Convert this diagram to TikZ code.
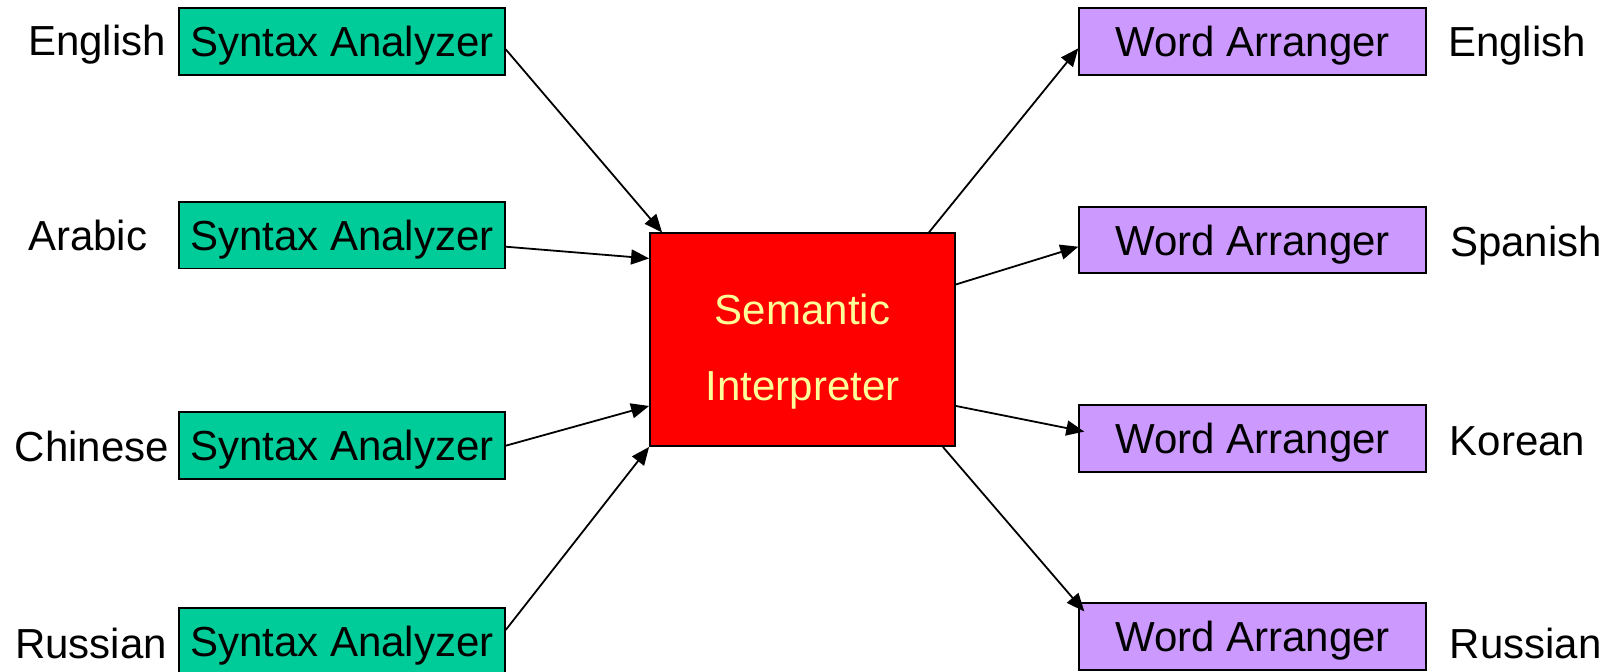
\documentclass[tikz,border=0pt]{standalone}
\usepackage{fontspec}
\setmainfont{Liberation Sans}
\usetikzlibrary{arrows.meta}
\definecolor{sagreen}{HTML}{00CC99}
\definecolor{wapurple}{HTML}{CC99FF}
\definecolor{semred}{HTML}{FF0000}
\definecolor{semyellow}{HTML}{FFFF99}
\begin{document}
\begin{tikzpicture}[x=1pt,y=-1pt,
  every node/.style={font=\fontsize{42}{50}\selectfont},
  sabox/.style={draw=black, line width=1.8pt, fill=sagreen, minimum width=326pt, minimum height=66.7pt, inner sep=0pt, text height=30pt, text depth=0pt},
  wabox/.style={draw=black, line width=1.8pt, fill=wapurple, minimum width=346.6pt, minimum height=66.7pt, inner sep=0pt, text height=30pt, text depth=0pt},
  sibox/.style={draw=black, line width=1.8pt, fill=semred, text=semyellow, minimum width=305pt, minimum height=212.7pt, inner sep=0pt, align=center, font=\fontsize{42}{76}\selectfont, text height=120.6pt, text depth=0pt},
  lang/.style={anchor=base west, inner sep=0pt},
  conn/.style={line width=1.8pt, -{Triangle[length=18pt,width=15pt]}}
]
\useasboundingbox (0,0) rectangle (1612,672);

% syntax analyzers
\node[sabox] (sa1) at (341.8,41.3) {Syntax Analyzer};
\node[sabox] (sa2) at (341.8,235.2) {Syntax Analyzer};
\node[sabox] (sa3) at (341.8,445.7) {Syntax Analyzer};
\node[sabox] (sa4) at (341.8,641.7) {Syntax Analyzer};

% semantic interpreter
\node[sibox] (si) at (802.5,339.7) {Semantic\\Interpreter};

% word arrangers
\node[wabox] (wa1) at (1252.5,41.3) {Word Arranger};
\node[wabox] (wa2) at (1252.5,240) {Word Arranger};
\node[wabox] (wa3) at (1252.5,438.3) {Word Arranger};
\node[wabox] (wa4) at (1252.5,636.7) {Word Arranger};

% left labels
\node[lang] (lin1) at (28,55) {English};
\node[lang] (lin2) at (28,250) {Arabic};
\node[lang] (lin3) at (14.5,461.7) {Chinese};
\node[lang] (lin4) at (15,658.3) {Russian};

% right labels
\node[lang] (lout1) at (1448,56.7) {English};
\node[lang] (lout2) at (1450,256.7) {Spanish};
\node[lang] (lout3) at (1449.5,455) {Korean};
\node[lang] (lout4) at (1449.5,658.3) {Russian};

% connectors
\draw[conn] ([yshift=-8pt]sa1.east) -- ([xshift=13pt]si.north west);
\draw[conn] ([yshift=-11.5pt]sa2.east) -- ([yshift=-26pt]si.north west);
\draw[conn] (sa3.east) -- ([yshift=41pt]si.south west);
\draw[conn] ([yshift=11.7pt]sa4.east) -- (si.south west);
\draw[conn] ([xshift=-27pt]si.north east) -- ([yshift=-7pt]wa1.west);
\draw[conn] ([yshift=-52pt]si.north east) -- ([yshift=-6.7pt]wa2.west);
\draw[conn] ([yshift=41pt]si.south east) -- ([xshift=6pt,yshift=6.7pt]wa3.west);
\draw[conn] ([xshift=-13pt]si.south east) -- ([xshift=6pt,yshift=-9pt]wa4.north west);
\end{tikzpicture}
\end{document}
